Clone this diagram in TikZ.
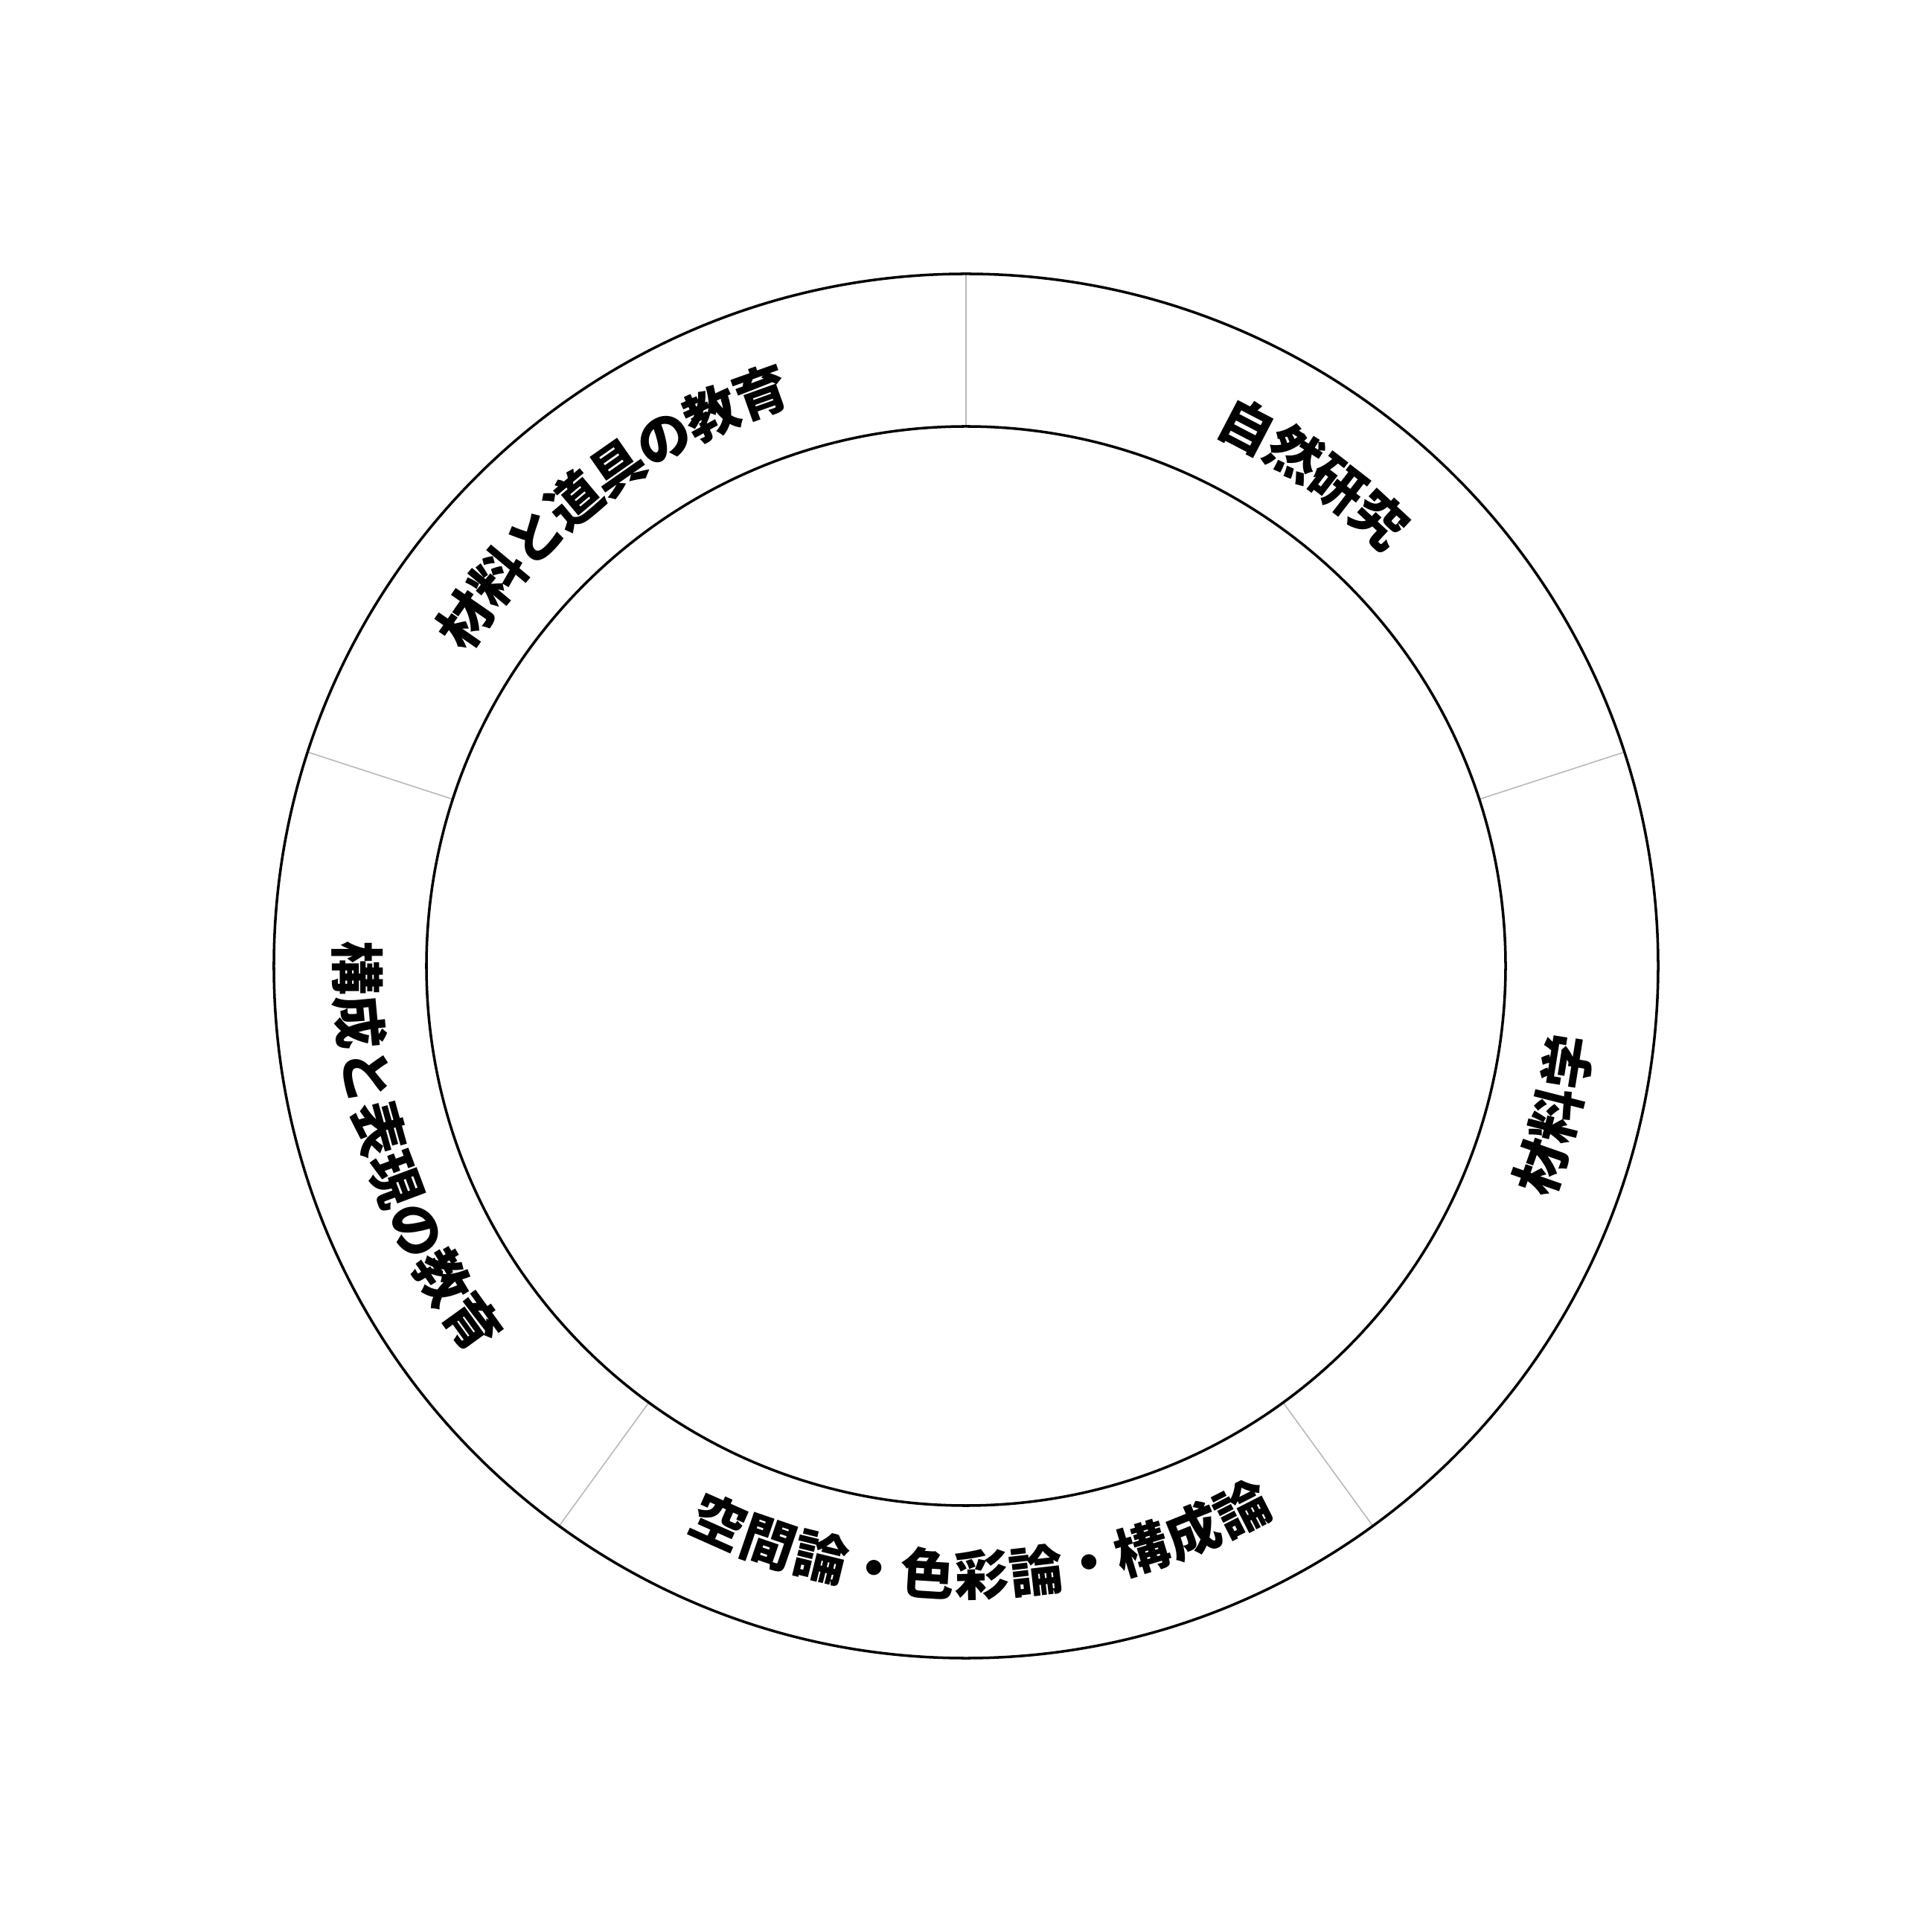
\documentclass[tikz,border=0pt]{standalone}
\usepackage{fontspec}
\usepackage{tikz}
\usetikzlibrary{decorations.text}
\newfontfamily\jpfont{Noto Sans CJK JP}
\newcommand{\ringfont}{\jpfont\bfseries\fontsize{20.7pt}{24pt}\selectfont}
\tikzset{
	ring/.style={line width=1pt},
	divider/.style={line width=0.45pt,black!28},
	ringtext/.style={decorate,decoration={text along path,text align=center,raise=-0.277cm,text={|\ringfont|#1}}}
}

\begin{document}
\begin{tikzpicture}
		\useasboundingbox (-12.98,-12.98) rectangle (12.98,12.98);
		\coordinate (O) at (0,0);
		% five sectors
		\foreach \a in {90,18,-54,-126,162}
			\draw[divider] (\a:7.25) -- (\a:9.30);
		\draw[ring] (O) circle (9.30);
		\draw[ring] (O) circle (7.25);
		% upper labels read clockwise, lower ones counterclockwise
		\path[ringtext={自然研究}] (90.85:8.18) arc[start angle=90.85,end angle=18.85,radius=8.18];
		\path[ringtext={材料と道具の教育}] (163.5:8.18) arc[start angle=163.5,end angle=91.5,radius=8.18];
		\path[ringtext={材料学}] (-50.2:8.18) arc[start angle=-50.2,end angle=21.8,radius=8.18];
		\path[ringtext={空間論・色彩論・構成論}] (-124.5:8.18) arc[start angle=-124.5,end angle=-52.5,radius=8.18];
		\path[ringtext={構成と表現の教育}] (162:8.18) arc[start angle=162,end angle=234,radius=8.18];
	\end{tikzpicture}
\end{document}
